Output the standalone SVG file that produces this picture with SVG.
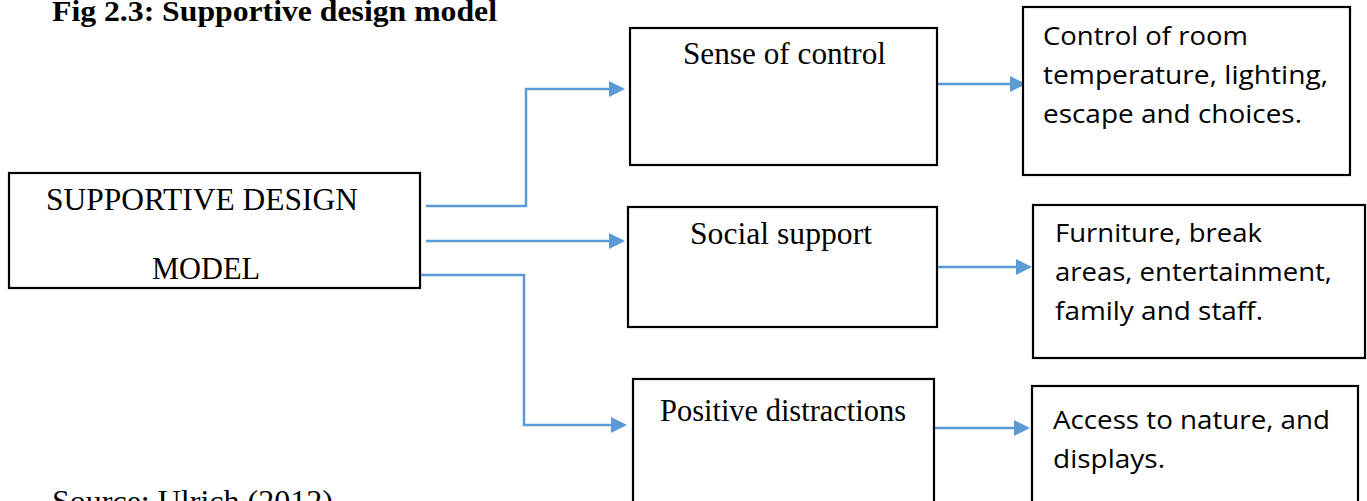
<svg xmlns="http://www.w3.org/2000/svg" width="1367" height="501" viewBox="0 0 1367 501">
<style>
.box{fill:#fff;stroke:#000;stroke-width:2.2}
.tr{font-family:"Liberation Serif","Times New Roman",serif;font-size:32px;fill:#000}
.cal{font-family:"Open Sans","Noto Sans",sans-serif;font-size:26px;fill:#000}
.con{fill:none;stroke:#5B9BD5;stroke-width:2.5}
</style>
<defs>
<marker id="ah" markerUnits="userSpaceOnUse" markerWidth="18" markerHeight="17" refX="3" refY="8" orient="auto">
<path d="M0,0 L16,8 L0,16 z" fill="#5B9BD5"/>
</marker>
</defs>
<rect width="1367" height="501" fill="#fff"/>
<text x="52" y="21" font-family="'Liberation Serif','Times New Roman',serif" font-size="29" font-weight="bold" textLength="445" lengthAdjust="spacingAndGlyphs">Fig 2.3: Supportive  design model</text>
<g id="connectors">
<path class="con" d="M426,206 H526 V89 H612" marker-end="url(#ah)"/>
<path class="con" d="M426,241 H612" marker-end="url(#ah)"/>
<path class="con" d="M421,275 H524 V425 H614" marker-end="url(#ah)"/>
<path class="con" d="M937,84 H1013" marker-end="url(#ah)"/>
<path class="con" d="M937,267 H1019" marker-end="url(#ah)"/>
<path class="con" d="M934,428 H1017" marker-end="url(#ah)"/>
</g>
<g id="main">
<rect class="box" x="9" y="173" width="411" height="115"/>
<text class="tr" x="46" y="210" font-size="33" textLength="312" lengthAdjust="spacingAndGlyphs">SUPPORTIVE DESIGN</text>
<text class="tr" x="152" y="279" font-size="33" textLength="108" lengthAdjust="spacingAndGlyphs">MODEL</text>
</g>
<g id="sense">
<rect class="box" x="630" y="28" width="307" height="137"/>
<text class="tr" x="683" y="64" textLength="203" lengthAdjust="spacingAndGlyphs">Sense of control</text>
</g>
<g id="social">
<rect class="box" x="628" y="207" width="309" height="120"/>
<text class="tr" x="690" y="244" textLength="182" lengthAdjust="spacingAndGlyphs">Social support</text>
</g>
<g id="positive">
<rect class="box" x="633" y="379" width="301" height="130"/>
<text class="tr" x="660" y="421" textLength="246" lengthAdjust="spacingAndGlyphs">Positive  distractions</text>
</g>
<g id="control">
<rect class="box" x="1023" y="7" width="327" height="168"/>
<text class="cal" x="1043" y="45" textLength="205" lengthAdjust="spacingAndGlyphs">Control of room</text>
<text class="cal" x="1043" y="84" textLength="285" lengthAdjust="spacingAndGlyphs">temperature,  lighting,</text>
<text class="cal" x="1043" y="123" textLength="259" lengthAdjust="spacingAndGlyphs">escape and choices.</text>
</g>
<g id="furniture">
<rect class="box" x="1033" y="205" width="332" height="153"/>
<text class="cal" x="1055" y="242" textLength="207" lengthAdjust="spacingAndGlyphs">Furniture,  break</text>
<text class="cal" x="1055" y="281" textLength="277" lengthAdjust="spacingAndGlyphs">areas, entertainment,</text>
<text class="cal" x="1055" y="320" textLength="208" lengthAdjust="spacingAndGlyphs">family and staff.</text>
</g>
<g id="access">
<rect class="box" x="1032" y="386" width="326" height="130"/>
<text class="cal" x="1053" y="429" textLength="277" lengthAdjust="spacingAndGlyphs">Access to nature,  and</text>
<text class="cal" x="1053" y="468" textLength="112" lengthAdjust="spacingAndGlyphs">displays.</text>
</g>
<text class="tr" x="52" y="512" font-size="32">Source: Ulrich  (2012)</text>
</svg>
